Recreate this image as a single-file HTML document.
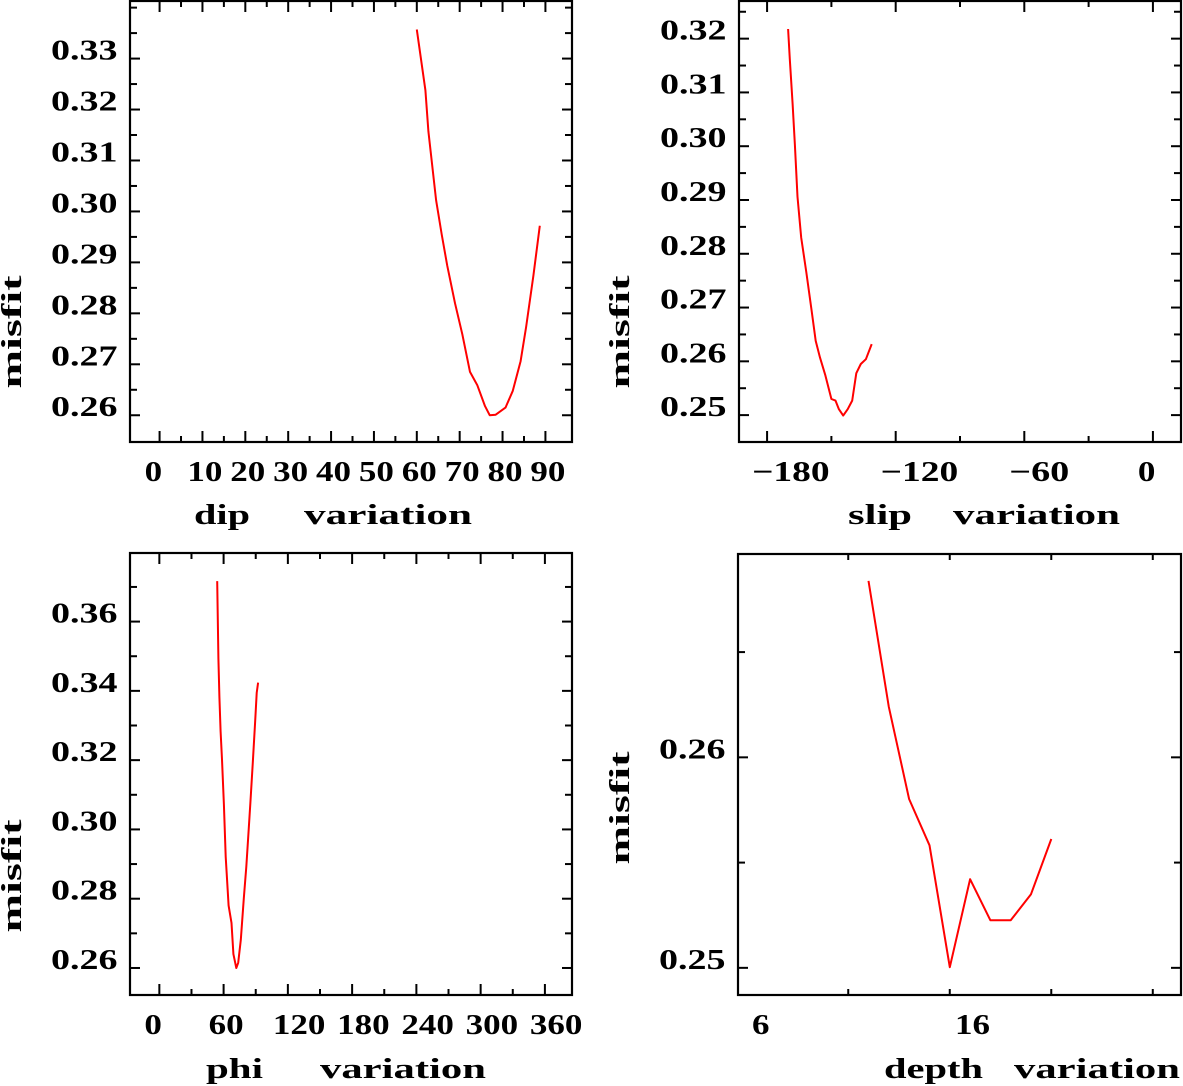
<!DOCTYPE html>
<html><head><meta charset="utf-8"><style>
html,body{margin:0;padding:0;background:#fff;}
svg{display:block;}
text{font-family:"Liberation Serif",serif;font-weight:bold;fill:#000;}
</style></head><body>
<svg id="chart" width="1183" height="1086" viewBox="0 0 1183 1086" xmlns="http://www.w3.org/2000/svg"></svg>
<script>
// ---- data ----
const dipX = [60,62,62.7,64.5,65.8,67.1,68.9,70.6,72.4,74.1,75.9,77,78.4,80.7,82.4,84.2,85.5,87.2,88.7];
const dipY = [0.3357,0.3238,0.3157,0.3022,0.2955,0.2894,0.2820,0.2759,0.2685,0.2659,0.2618,0.2600,0.2601,0.2615,0.2648,0.2706,0.2773,0.2874,0.2972];
const slipX = [-170.2,-169.4,-168.1,-167.0,-165.8,-164.1,-161.7,-159.3,-157.3,-155.3,-152.9,-150.0,-148.1,-146.5,-144.5,-142.4,-140.3,-138.4,-136.3,-133.9,-131.2];
const slipY = [0.3218,0.3162,0.3079,0.3002,0.2906,0.2830,0.2766,0.2696,0.2638,0.2607,0.2575,0.2530,0.2527,0.2511,0.2499,0.2511,0.2527,0.2578,0.2595,0.2604,0.2632];
const phiX = [54.0,55.1,56.1,57.2,58.5,60.3,62.0,64.7,67.4,69.1,71.9,73.6,76.1,78.9,81.2,83.1,84.9,87.3,89.5,90.9,92.2];
const phiY = [0.3717,0.3494,0.3383,0.3283,0.3202,0.3072,0.2921,0.2780,0.2730,0.2640,0.2600,0.2615,0.2681,0.2801,0.2892,0.2982,0.3073,0.3193,0.3314,0.3394,0.3424];
const depthX = [11,12,13,14,15,16,17,18,19,20];
const depthY = [0.26838,0.26240,0.25802,0.25582,0.25003,0.25421,0.25226,0.25226,0.25350,0.25612];
const dipXLabels = [0,10,20,30,40,50,60,70,80,90];
const dipYLabels = [0.26,0.27,0.28,0.29,0.30,0.31,0.32,0.33];
const slipXLabels = [-180,-120,-60,0];
const slipYLabels = [0.25,0.26,0.27,0.28,0.29,0.30,0.31,0.32];
const phiXLabels = [0,60,120,180,240,300,360];
const phiYLabels = [0.26,0.28,0.30,0.32,0.34,0.36];
const depthXLabels = [6,16];
const depthYLabels = [0.25,0.26];

const NS = "http://www.w3.org/2000/svg";
const svg = document.getElementById('chart');
function mk(tag, attrs, parent){
  const e = document.createElementNS(NS, tag);
  for (const k in attrs) e.setAttribute(k, attrs[k]);
  (parent||svg).appendChild(e);
  return e;
}
function charW(s){let w=0;for(const c of s){w+= c==='.'?14:(c==='-'?25:17.5);}return w;}
function fmtX(v){return v<0?'\u2212'+Math.abs(v):String(v);}

const panels = [
 {name:'dip', L:130,R:572,T:1,B:442, x0:-6.9,x1:96.2, y0:0.25475,y1:0.3413, xt:5, xl:dipXLabels, yt:0.005, yl:dipYLabels, xs:dipX, ys:dipY,
  title:[['dip',194,56],['variation',304,168]], ty:524, mx:21, my:332, dec:2},
 {name:'slip', L:739,R:1181,T:1,B:442, x0:-193.1,x1:13.1, xt:30, xl:slipXLabels, y0:0.2450,y1:0.3270, yt:0.005, yl:slipYLabels, xs:slipX, ys:slipY,
  title:[['slip',848,64],['variation',953,167]], ty:524, mx:629, my:332, dec:2},
 {name:'phi', L:130,R:572,T:553,B:995, x0:-27.4,x1:385.3, xt:30, xl:phiXLabels, y0:0.2522,y1:0.3798, yt:0.01, yl:phiYLabels, xs:phiX, ys:phiY,
  title:[['phi',206,57],['variation',320,166]], ty:1078, mx:21, my:876, dec:2},
 {name:'depth', L:738,R:1181,T:554,B:995, x0:4.57,x1:26.39, xt:5, xl:depthXLabels, y0:0.24871,y1:0.26966, yt:0.005, yl:depthYLabels, xs:depthX, ys:depthY,
  title:[['depth',884,99],['variation',1014,166]], ty:1078, mx:629, my:808, dec:2}
];

panels.forEach(p=>{
  const g = mk('g',{});
  
  
  const sx = v => p.L + (v-p.x0)/(p.x1-p.x0)*(p.R-p.L);
  const sy = v => p.B - (v-p.y0)/(p.y1-p.y0)*(p.B-p.T);
  const frame = mk('rect',{x:p.L,y:p.T,width:p.R-p.L,height:p.B-p.T,fill:'none',stroke:'#000','stroke-width':2.2},g);
  
  
  const labSet = new Set(p.xl.map(v=>Math.round(v*1000)));
  for (let v=Math.ceil(p.x0/p.xt)*p.xt; v<=p.x1; v+=p.xt){
    const X = sx(v);
    if (X < p.L+10 || X > p.R-10) continue;
    const major = labSet.has(Math.round(v*1000)); const len = major?11:6;
    mk('line',{x1:X,y1:p.B,x2:X,y2:p.B-len,stroke:'#000','stroke-width':2},g);
    mk('line',{x1:X,y1:p.T,x2:X,y2:p.T+len,stroke:'#000','stroke-width':2},g);
  }
  const ylab = new Set(p.yl.map(v=>Math.round(v*100000)));
  for (let i=Math.ceil(p.y0/p.yt-1e-6); i*p.yt<=p.y1; i++){
    const v=i*p.yt; const Y=sy(v);
    if (Y < p.T+6 || Y > p.B-6) continue;
    const major=ylab.has(Math.round(v*100000)); const len=major?10:7;
    mk('line',{x1:p.L,y1:Y,x2:p.L+len,y2:Y,stroke:'#000','stroke-width':2},g);
    mk('line',{x1:p.R,y1:Y,x2:p.R-len,y2:Y,stroke:'#000','stroke-width':2},g);
  }
  p.xl.forEach(v=>{
    const s=fmtX(v);
    const t=mk('text',{x:sx(v)-15,y:p.B+39,'font-size':28,textLength:charW(s.replace('\u2212','-')),lengthAdjust:'spacingAndGlyphs'},g);
    t.textContent=s;
    
    
  });
  p.yl.forEach(v=>{
    const s=v.toFixed(p.dec);
    const t=mk('text',{x:p.L-79,y:sy(v)+1,'font-size':28,textLength:66.5,lengthAdjust:'spacingAndGlyphs'},g);
    t.textContent=s;
    
    
  });
  p.title.forEach(([w,x,len])=>{
    const t=mk('text',{x:x,y:p.ty,'font-size':29,textLength:len,lengthAdjust:'spacingAndGlyphs'},g);
    t.textContent=w;
    
    
  });
  const m=mk('text',{x:0,y:0,'font-size':29,textLength:113,lengthAdjust:'spacingAndGlyphs','text-anchor':'middle',transform:`translate(${p.mx},${p.my}) rotate(-90)`},g);
  m.textContent='misfit';
  
  
  const pts=p.xs.map((x,i)=>sx(x).toFixed(1)+','+sy(p.ys[i]).toFixed(1)).join(' ');
  const line=mk('polyline',{points:pts,fill:'none',stroke:'#ff0000','stroke-width':2,'stroke-linejoin':'round'},g);
  
  
});
</script>
</body></html>
